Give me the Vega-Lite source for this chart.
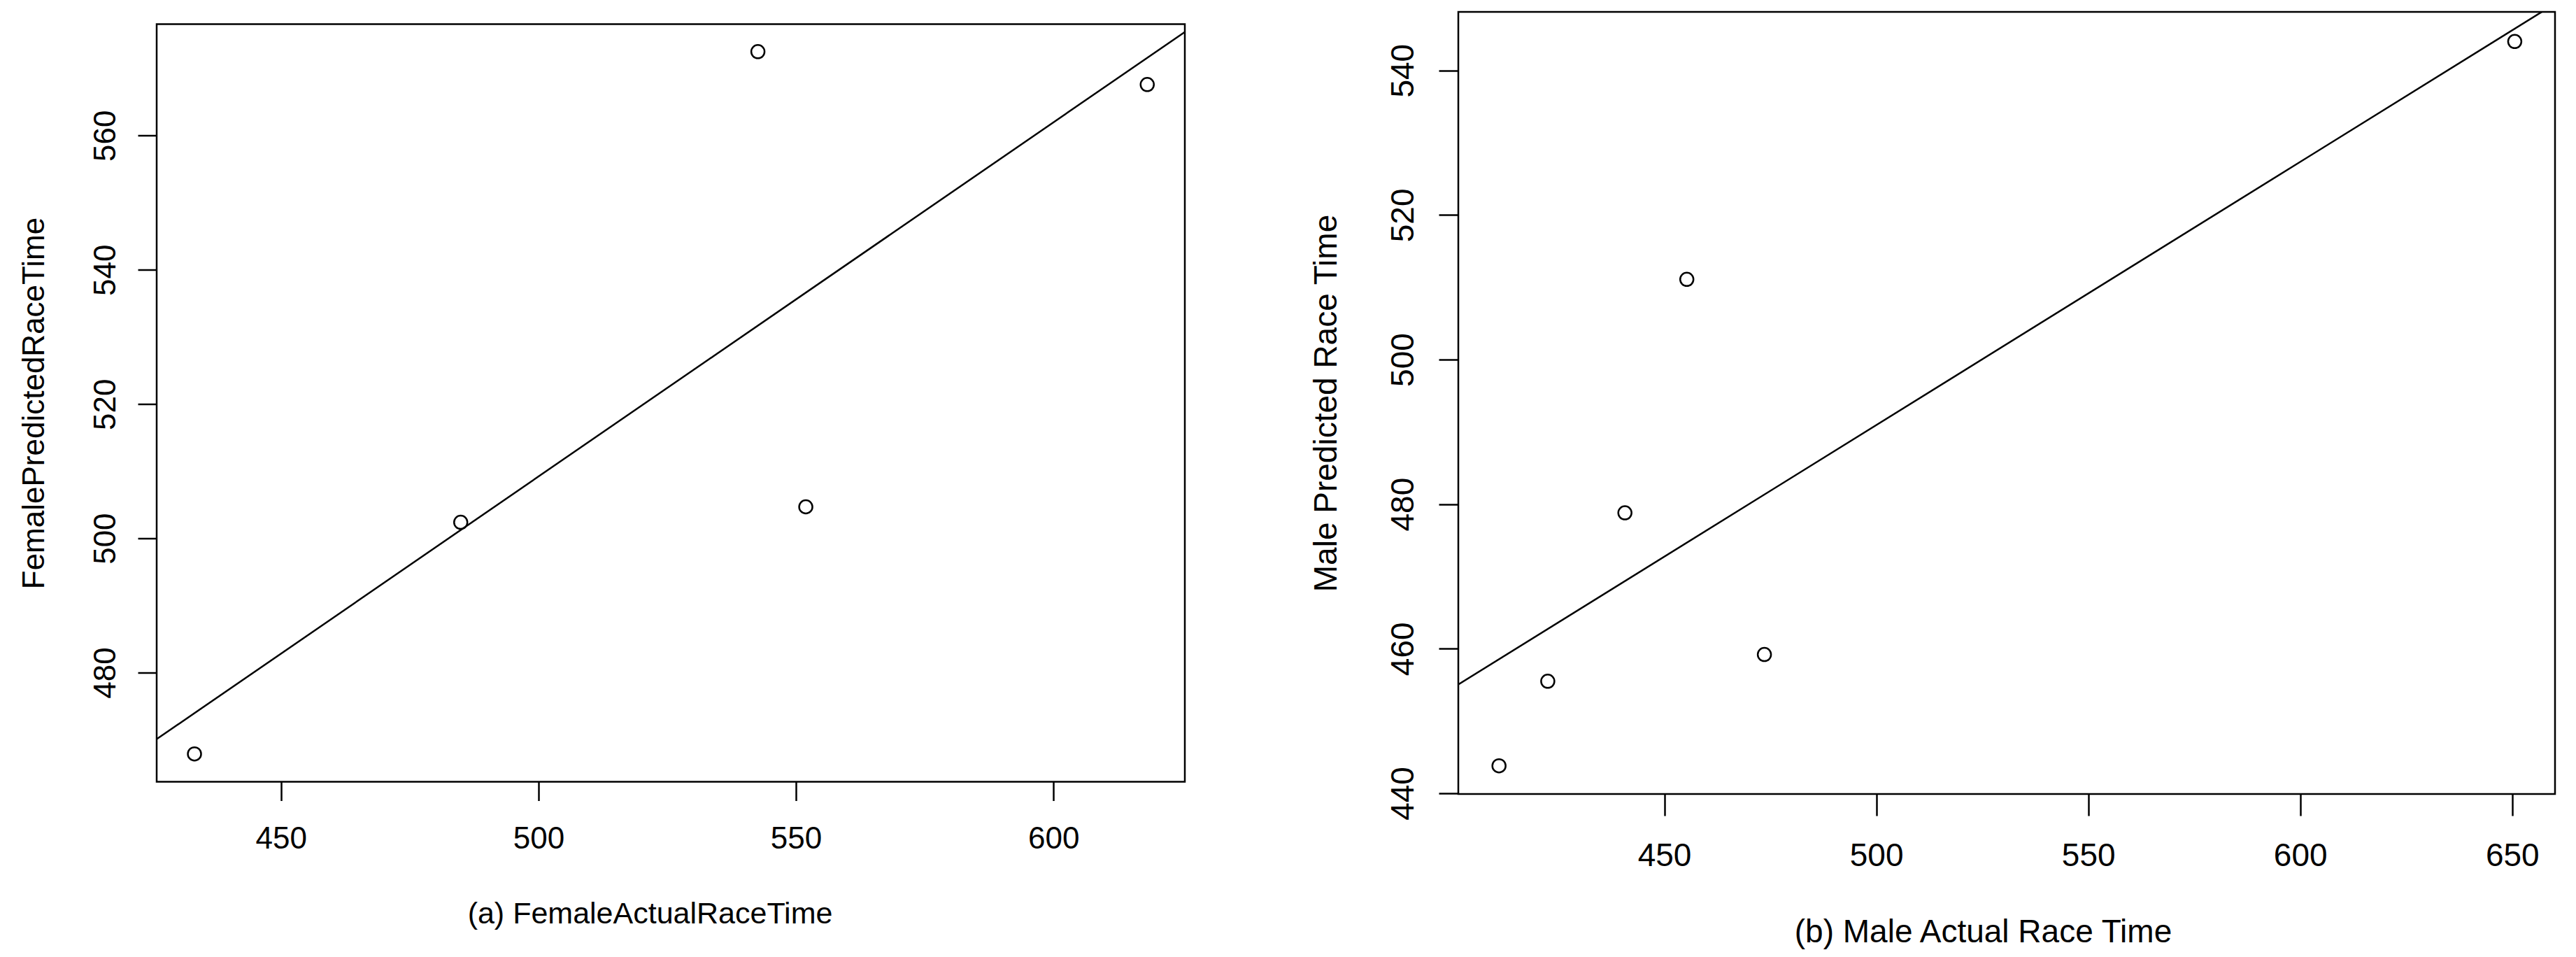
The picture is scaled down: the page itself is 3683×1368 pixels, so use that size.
{
  "$schema": "https://vega.github.io/schema/vega-lite/v6.json",
  "background": "white",
  "padding": {"left": 25, "top": 15, "right": 0, "bottom": 0},
  "bounds": "flush",
  "center": true,
  "spacing": 391,
  "config": {
    "font": "Liberation Sans",
    "view": {"stroke": "black", "strokeWidth": 2.5},
    "axis": {
      "grid": false,
      "domain": false,
      "tickColor": "black",
      "tickWidth": 2.5,
      "tickSize": 27,
      "labelColor": "black",
      "titleColor": "black",
      "labelFont": "Liberation Sans",
      "titleFont": "Liberation Sans",
      "titleFontWeight": "normal",
      "labelFlush": false,
      "labelOverlap": false,
      "labelPadding": 33
    },
    "axisY": {"labelAngle": -90, "labelAlign": "center", "labelBaseline": "alphabetic"}
  },
  "hconcat": [
    {
      "width": 1470,
      "height": 1083,
      "data": {"values": [
        {"actual": 433.2, "pred": 467.9},
        {"actual": 484.9, "pred": 502.4},
        {"actual": 542.6, "pred": 572.5},
        {"actual": 551.9, "pred": 504.7},
        {"actual": 618.2, "pred": 567.6}
      ]},
      "encoding": {
        "x": {"field": "actual", "type": "quantitative", "title": "(a) FemaleActualRaceTime",
          "scale": {"domain": [425.86, 625.5], "nice": false, "zero": false},
          "axis": {"values": [450, 500, 550, 600], "labelFontSize": 44, "titleFontSize": 43, "titlePadding": 64, "titleX": 705, "tickSize": 27}},
        "y": {"field": "pred", "type": "quantitative", "title": "FemalePredictedRaceTime",
          "scale": {"domain": [463.75, 576.6], "nice": false, "zero": false},
          "axis": {"values": [480, 500, 520, 540, 560], "labelFontSize": 44, "titleFontSize": 44, "titlePadding": 58, "tickSize": 27}}
      },
      "layer": [
        {
          "transform": [{"regression": "pred", "on": "actual", "extent": [425.86, 625.5]}],
          "mark": {"type": "line", "color": "black", "strokeWidth": 2.5, "clip": true}
        },
        {
          "mark": {"type": "point", "shape": "circle", "filled": false, "color": "black", "size": 361, "strokeWidth": 2.5, "opacity": 1}
        }
      ]
    },
    {
      "width": 1568,
      "height": 1118,
      "data": {"values": [
        {"actual": 411.0, "pred": 443.8},
        {"actual": 422.5, "pred": 455.5},
        {"actual": 440.7, "pred": 478.8},
        {"actual": 455.3, "pred": 511.1},
        {"actual": 473.6, "pred": 459.2},
        {"actual": 650.6, "pred": 544.0}
      ]},
      "encoding": {
        "x": {"field": "actual", "type": "quantitative", "title": "(b) Male Actual Race Time",
          "scale": {"domain": [401.4, 660.1], "nice": false, "zero": false},
          "axis": {"values": [450, 500, 550, 600, 650], "labelFontSize": 46, "titleFontSize": 46, "titlePadding": 64, "titleX": 750, "tickSize": 31, "labelPadding": 35}},
        "y": {"field": "pred", "type": "quantitative", "title": "Male Predicted Race Time",
          "scale": {"domain": [439.9, 548.1], "nice": false, "zero": false},
          "axis": {"values": [440, 460, 480, 500, 520, 540], "labelFontSize": 46, "titleFontSize": 46, "titlePadding": 63, "tickSize": 28, "labelPadding": 37}}
      },
      "layer": [
        {
          "transform": [{"regression": "pred", "on": "actual", "extent": [401.4, 660.1]}],
          "mark": {"type": "line", "color": "black", "strokeWidth": 2.5, "clip": true}
        },
        {
          "mark": {"type": "point", "shape": "circle", "filled": false, "color": "black", "size": 361, "strokeWidth": 2.5, "opacity": 1}
        }
      ]
    }
  ]
}
